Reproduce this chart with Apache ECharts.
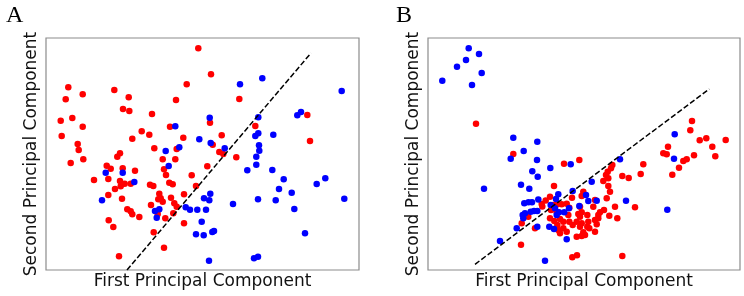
<!DOCTYPE html>
<html>
<head>
<meta charset="utf-8">
<script src="https://cdn.jsdelivr.net/npm/echarts@6/dist/echarts.min.js"></script>
<style>
  html, body { margin: 0; padding: 0; background: #fff; }
  #chart { width: 744px; height: 296px; }
</style>
</head>
<body>
<div id="chart"></div>
<script>
// values, unitless PCA scores (plot box = 313 x 232 / 312 x 232)
const panelLabels = ['A', 'B']
const xTitle = 'First Principal Component'
const yTitle = 'Second Principal Component'

const redA = [
  [152.3, 221.7], [22.3, 182.7], [36.7, 175.7], [19.7, 170.7], [68.3, 180], [82.7, 172.7], [140.7, 185.7],
  [130, 170], [77, 161], [83.3, 159], [106, 156], [14.7, 149.3], [26.3, 152], [36.7, 143.3], [124, 143.3],
  [15.7, 134], [95.7, 138.7], [103.3, 135.3], [86.3, 131.3], [137.3, 132.3], [31.7, 126], [32.7, 120],
  [108.3, 121.7], [130.7, 121], [74, 116.7], [71.3, 113.3], [37.3, 110.7], [116.7, 110.7], [129.3, 110.7],
  [165, 195.7], [193.3, 171], [261.3, 155], [164, 147.3], [209.3, 144], [175.7, 134.7], [264, 129],
  [166.7, 125.3], [173.3, 118], [177.3, 116], [190.3, 112.7], [161.3, 103.7], [145.7, 94.7], [150, 84],
  [24.7, 107], [60.7, 104.3], [64.7, 101.3], [76.7, 101.7], [89, 99.3], [62.3, 91], [48, 90], [74, 89],
  [78.7, 86.3], [74.7, 83.7], [84.7, 86.3], [104, 85.3], [107.3, 84], [118, 100.7], [120, 95], [123.3, 87.3],
  [126.7, 85.7], [69, 81], [62.3, 75], [76, 71.3], [113.3, 76.3], [114.7, 71.7], [112.3, 70.7], [116.7, 68.3],
  [125, 72.3], [128.3, 66.7], [130.7, 63.3], [138, 75.7], [81.3, 60.7], [84.7, 58.7], [86.3, 55.7], [93.3, 53],
  [105, 65], [111.7, 56], [119.3, 51.7], [127.3, 56.7], [62.7, 49.7], [67.3, 43], [138, 46.7], [107.7, 37.7],
  [118, 22.3], [73, 13.7]
]
const blueA = [
  [129.3, 143.7], [153.3, 130.7], [119.7, 119], [133.3, 122.7], [194, 185.7], [216.3, 191.7], [295.7, 179],
  [212.3, 152.7], [251.3, 154.7], [255, 158], [163.7, 152.3], [209.3, 134], [212.3, 136.7], [227.3, 135.3],
  [164.7, 127], [178.7, 121.7], [213, 124.7], [213.3, 119.3], [210.3, 113.3], [279.3, 91.7], [270.7, 86],
  [245.7, 77.3], [298.3, 71.3], [248.3, 61], [259, 36.7], [210.3, 105.3], [201.3, 99.7], [226.3, 100],
  [237.7, 90.7], [233, 81], [164.3, 76.3], [158, 71.7], [163.3, 69.7], [212, 70.7], [229.7, 69.7], [187, 66],
  [144, 60.3], [151.3, 60.3], [160, 60.3], [139.7, 62.7], [155.7, 48.3], [150, 35.7], [157.7, 34.7],
  [166.3, 38], [168, 39], [163, 9.3], [208, 11.7], [212, 13.3], [122.7, 104], [59.7, 97.3], [76.7, 97.3],
  [88.3, 88], [56, 69.7], [109, 59], [113.3, 60.7], [110.7, 52.3]
]
const lineA = [[81, 0], [265, 217]]

const redB = [
  [48, 146.3], [85.3, 116], [151.3, 110], [136, 106.3], [126, 84], [122, 73.3], [144, 72.3], [179.7, 98.3],
  [183, 101.7], [178, 95], [180.3, 91.7], [180.3, 84], [182, 78.3], [155.3, 78.3], [167, 70], [178.7, 71.7],
  [187, 63.3], [117.7, 69.5], [113.7, 66], [125.3, 65], [129.3, 65.7], [133.7, 65.7], [138.7, 66.3],
  [165.3, 63.3], [176, 60], [141.3, 62.3], [114.3, 63.5], [123, 60], [128.7, 57.7], [140.3, 55], [150.3, 56],
  [153.7, 57.7], [159.3, 55], [170.3, 55], [172, 57.7], [181.3, 54.3], [100.3, 53.3], [122, 51.7], [126.3, 49],
  [132, 51], [135.3, 48.3], [141.3, 48.3], [148.7, 48.3], [153.7, 46.7], [160.3, 48.3], [167, 50], [168.7, 45.7],
  [93.7, 46.7], [107, 41.7], [129.3, 45], [130.3, 40], [135.3, 41.7], [138.7, 38.3], [144.7, 45], [152, 43.3],
  [155.3, 37.7], [161.3, 41.7], [167, 38.3], [132, 36.7], [93, 25.3], [144.3, 12.7], [149, 14.7], [148.7, 33.3],
  [153.7, 34], [264, 149], [262.3, 139.7], [271.7, 129.7], [278.3, 131.7], [297.7, 130], [240, 123.3],
  [284.3, 123.3], [235.3, 116.7], [238.7, 115.7], [266, 114.7], [287.3, 113.7], [255.3, 109], [258.7, 110.7],
  [184.3, 105], [215.3, 105.7], [251, 102.3], [244.3, 95.3], [212.7, 96], [194.3, 94], [200.7, 92], [175.3, 89],
  [153.7, 74], [152, 63.3], [207, 62.7], [170.3, 51.7], [189.3, 51.7], [152, 53.3], [159.3, 43.3], [157, 35],
  [194.3, 14]
]
const blueB = [
  [40.7, 221.7], [51, 216], [38, 210], [29, 203.3], [53.7, 197], [14.3, 189.3], [44, 185], [85.3, 132.3],
  [109.3, 128.3], [95.7, 119], [82.7, 111.3], [109, 110], [142.7, 105.7], [122.3, 102], [104.3, 98.7],
  [109.7, 93.3], [56, 81.3], [93, 85.3], [101.3, 81.3], [192, 110.7], [163.7, 88.3], [144.7, 79], [130.3, 75.7],
  [128, 71], [158, 75], [160.3, 69], [110.3, 70.5], [96.3, 66.7], [100.5, 67.7], [104, 67.7], [122.7, 65],
  [151.3, 64], [106, 59], [102.7, 58.3], [109.3, 59], [127, 61.7], [131, 57.7], [128.7, 55], [136.3, 57.7],
  [94.7, 55], [97, 56.7], [95.3, 51.7], [88.7, 41.7], [109.3, 43.3], [121.3, 43.3], [126, 41], [72, 29],
  [117, 9.3], [138.7, 30.7], [141, 61.7], [246.7, 135.7], [246, 111.3], [168.7, 69.3], [198, 69.3], [239.3, 60.3]
]
const lineB = [[47, 5.7], [281.3, 181]]

const chart = echarts.init(document.getElementById('chart'), null, { renderer: 'canvas' })

const axisName = { fontFamily: 'DejaVu Sans', fontSize: 17, color: '#111' }
const labelStyle = { fontFamily: 'Liberation Serif', fontSize: 24, fontWeight: 'normal', color: '#000' }

function xAx(idx, max) {
  return {
    gridIndex: idx, type: 'value', min: 0, max: max,
    name: xTitle, nameLocation: 'middle', nameGap: 3, nameTextStyle: axisName,
    axisLine: { show: false }, axisTick: { show: false }, axisLabel: { show: false }, splitLine: { show: false },
  }
}
function yAx(idx) {
  return {
    gridIndex: idx, type: 'value', min: 0, max: 232,
    name: yTitle, nameLocation: 'middle', nameGap: 6, nameTextStyle: axisName,
    axisLine: { show: false }, axisTick: { show: false }, axisLabel: { show: false }, splitLine: { show: false },
  }
}
function dots(idx, data, color) {
  return {
    type: 'scatter', xAxisIndex: idx, yAxisIndex: idx, data: data,
    symbol: 'circle', symbolSize: 6.5, itemStyle: { color: color, opacity: 1 },
    emphasis: { disabled: true }, silent: true,
  }
}
function fit(idx, data) {
  return {
    type: 'line', xAxisIndex: idx, yAxisIndex: idx, data: data, symbol: 'none',
    lineStyle: { color: '#000', width: 1.5, type: [5.5, 2.4] }, silent: true, z: 5,
  }
}

chart.setOption({
  animation: false,
  title: [
    { text: panelLabels[0], left: 1, top: -1, textStyle: labelStyle },
    { text: panelLabels[1], left: 391, top: -1, textStyle: labelStyle },
  ],
  grid: [
    { left: 46, top: 38, width: 313, height: 232, show: true, borderColor: '#8c8c8c', borderWidth: 1.2, backgroundColor: 'transparent' },
    { left: 428, top: 38, width: 312, height: 232, show: true, borderColor: '#8c8c8c', borderWidth: 1.2, backgroundColor: 'transparent' },
  ],
  xAxis: [xAx(0, 313), xAx(1, 312)],
  yAxis: [yAx(0), yAx(1)],
  series: [
    dots(0, redA, '#ff0000'), dots(0, blueA, '#0000ff'), fit(0, lineA),
    dots(1, redB, '#ff0000'), dots(1, blueB, '#0000ff'), fit(1, lineB),
  ],
})
</script>
</body>
</html>
